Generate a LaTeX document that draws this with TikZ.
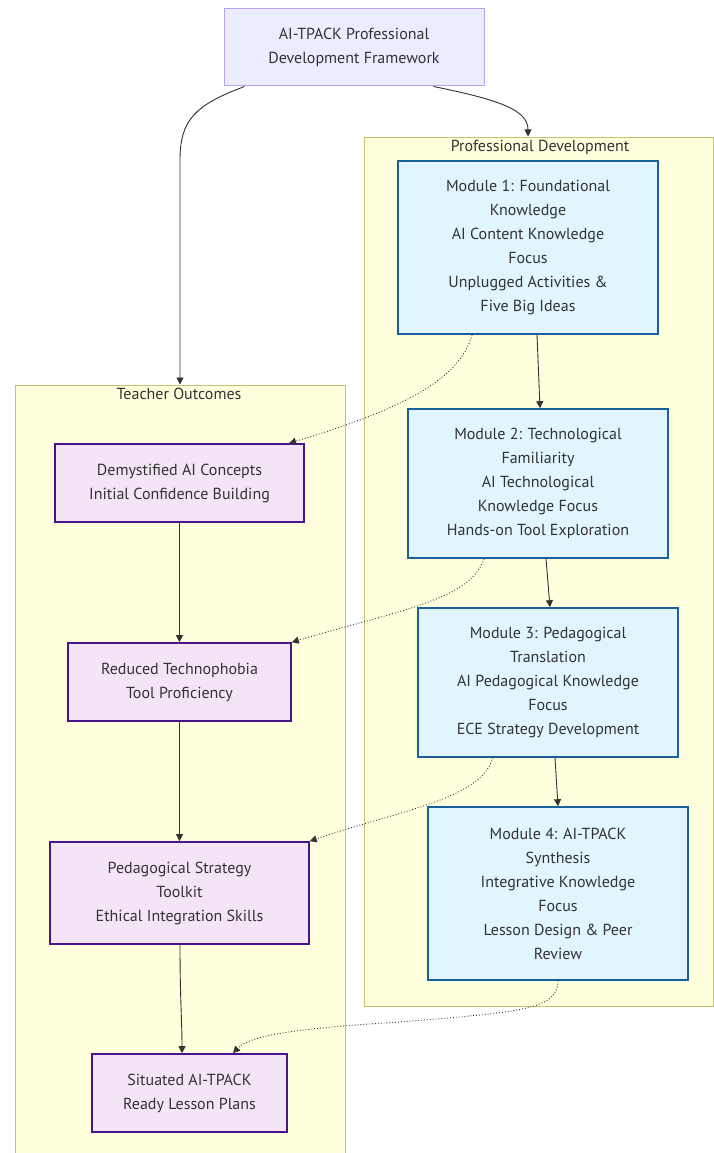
\documentclass[tikz,border=0pt]{standalone}
\usepackage{fontspec}
\setmainfont{PT Sans}
\usetikzlibrary{arrows.meta}
\definecolor{txt}{HTML}{333333}
\definecolor{clfill}{HTML}{FFFFDE}
\definecolor{cldraw}{HTML}{C6C66E}
\definecolor{topfill}{HTML}{ECECFF}
\definecolor{topdraw}{HTML}{B9A2F0}
\definecolor{modfill}{HTML}{E1F5FE}
\definecolor{moddraw}{HTML}{1A5E9A}
\definecolor{outfill}{HTML}{F3E5F5}
\definecolor{outdraw}{HTML}{4A148C}
\definecolor{edge}{HTML}{333333}
\begin{document}
\begin{tikzpicture}[x=1pt,y=-1pt,
  every node/.style={font=\fontsize{16}{24}\selectfont, text=txt, align=center, inner sep=0pt},
  topbox/.style={draw=topdraw, fill=topfill, line width=1pt},
  modbox/.style={draw=moddraw, fill=modfill, line width=1.6pt},
  outbox/.style={draw=outdraw, fill=outfill, line width=1.6pt},
  cluster/.style={draw=cldraw, fill=clfill, line width=1.2pt},
  arr/.style={draw=edge, line width=0.9pt, -{Triangle[length=7pt,width=7pt]}},
  dotarr/.style={draw=edge, line width=0.9pt, dotted, -{Triangle[length=7pt,width=7pt]}}
]
\useasboundingbox (0,0) rectangle (713,1153);
\fill[white] (0,0) rectangle (713,1153);
% clusters
\node[cluster, minimum width=349pt, minimum height=869pt, anchor=north west] (pd) at (363.5,136.5) {};
\node[anchor=north] (pdl) at (540,140) {Professional Development};
\node[cluster, minimum width=330pt, minimum height=775pt, anchor=north west] (to) at (14.5,384.5) {};
\node[anchor=north] (tol) at (179,388) {Teacher Outcomes};
% top
\node[topbox, minimum width=260pt, minimum height=77pt] (top) at (354,47.5) {AI-TPACK Professional\\Development Framework};
% modules
\node[modbox, minimum width=260pt, minimum height=173pt] (m1) at (528,247.5) {Module 1: Foundational\\Knowledge\\AI Content Knowledge\\Focus\\Unplugged Activities \&\\Five Big Ideas};
\node[modbox, minimum width=260pt, minimum height=149pt] (m2) at (538,483.5) {Module 2: Technological\\Familiarity\\AI Technological\\Knowledge Focus\\Hands-on Tool Exploration};
\node[modbox, minimum width=260pt, minimum height=149pt] (m3) at (548,682.5) {Module 3: Pedagogical\\Translation\\AI Pedagogical Knowledge\\Focus\\ECE Strategy Development};
\node[modbox, minimum width=260pt, minimum height=173pt] (m4) at (558,893.5) {Module 4: AI-TPACK\\Synthesis\\Integrative Knowledge\\Focus\\Lesson Design \& Peer\\Review};
% outcomes
\node[outbox, minimum width=249pt, minimum height=78pt] (o1) at (179.5,483) {Demystified AI Concepts\\Initial Confidence Building};
\node[outbox, minimum width=223pt, minimum height=78pt] (o2) at (179.5,682) {Reduced Technophobia\\Tool Proficiency};
\node[outbox, minimum width=259pt, minimum height=102pt] (o3) at (179.5,893) {Pedagogical Strategy\\Toolkit\\Ethical Integration Skills};
\node[outbox, minimum width=195pt, minimum height=78pt] (o4) at (189.5,1093) {Situated AI-TPACK\\Ready Lesson Plans};
% edges
\draw[arr] (top.south west) ++(21,0) .. controls (195,105) and (180,120) .. (180,160) -- (to.north -| 180,0);
\draw[arr] (top.south east) ++(-51,0) .. controls (500,100) and (528,110) .. (pd.north -| 528,0);
\draw[arr] (m1.south -| 537,0) -- (m2.north -| 540,0);
\draw[arr] (m2.south -| 546,0) -- (m3.north -| 550,0);
\draw[arr] (m3.south -| 555,0) -- (m4.north -| 558,0);
\draw[arr] (o1) -- (o2);
\draw[arr] (o2) -- (o3);
\draw[arr] (o3.south -| 180,0) .. controls (180,1000) and (182,1020) .. (o4.north -| 182,0);
\draw[dotarr] (m1.south -| 472,0) .. controls (460,380) and (400,410) .. (o1.north -| 289,0);
\draw[dotarr] (m2.south -| 484,0) .. controls (470,600) and (400,610) .. (o2.north east);
\draw[dotarr] (m3.south -| 493,0) .. controls (480,800) and (400,810) .. (o3.north east);
\draw[dotarr] (m4.south) .. controls (558,1010) and (520,1012) .. (400,1022) .. controls (300,1028) and (250,1035) .. (o4.north -| 233,0);
\end{tikzpicture}
\end{document}
